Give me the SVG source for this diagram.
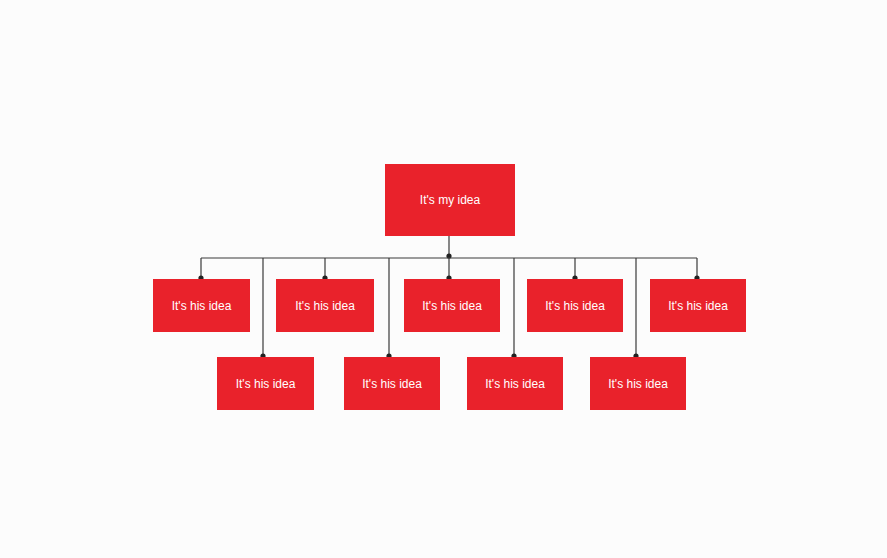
<svg xmlns="http://www.w3.org/2000/svg" width="887" height="558" viewBox="0 0 887 558">
<style>
.box{fill:#e9222b;}
.t{fill:#ffffff;font-family:"Liberation Sans",Arial,sans-serif;font-size:12px;text-anchor:middle;dominant-baseline:central;}
.c{stroke:#3a3a3a;stroke-width:1.2;fill:none;}
</style>
<defs>
<marker id="dot" viewBox="0 0 6 6" refX="3" refY="3" markerWidth="6" markerHeight="6" markerUnits="userSpaceOnUse">
<circle cx="3" cy="3" r="2.6" fill="#222"/>
</marker>
</defs>
<rect width="887" height="558" fill="#fcfcfc"/>
<g id="connectors">
<path class="c" d="M449 236 V256" marker-end="url(#dot)"/>
<path class="c" d="M201 258 H697"/>
<path class="c" d="M201 258 V278" marker-end="url(#dot)"/>
<path class="c" d="M325 258 V278" marker-end="url(#dot)"/>
<path class="c" d="M449 258 V278" marker-end="url(#dot)"/>
<path class="c" d="M575 258 V278" marker-end="url(#dot)"/>
<path class="c" d="M697 258 V278" marker-end="url(#dot)"/>
<path class="c" d="M263 258 V356" marker-end="url(#dot)"/>
<path class="c" d="M389 258 V356" marker-end="url(#dot)"/>
<path class="c" d="M514 258 V356" marker-end="url(#dot)"/>
<path class="c" d="M636 258 V356" marker-end="url(#dot)"/>
</g>
<g id="root"><rect class="box" x="385" y="164" width="130" height="72"/><text class="t" x="450" y="200">It's my idea</text></g>
<g id="n1"><rect class="box" x="153" y="279" width="97" height="53"/><text class="t" x="201.5" y="305.5">It's his idea</text></g>
<g id="n2"><rect class="box" x="276" y="279" width="98" height="53"/><text class="t" x="325" y="305.5">It's his idea</text></g>
<g id="n3"><rect class="box" x="404" y="279" width="96" height="53"/><text class="t" x="452" y="305.5">It's his idea</text></g>
<g id="n4"><rect class="box" x="527" y="279" width="96" height="53"/><text class="t" x="575" y="305.5">It's his idea</text></g>
<g id="n5"><rect class="box" x="650" y="279" width="96" height="53"/><text class="t" x="698" y="305.5">It's his idea</text></g>
<g id="n6"><rect class="box" x="217" y="357" width="97" height="53"/><text class="t" x="265.5" y="383.5">It's his idea</text></g>
<g id="n7"><rect class="box" x="344" y="357" width="96" height="53"/><text class="t" x="392" y="383.5">It's his idea</text></g>
<g id="n8"><rect class="box" x="467" y="357" width="96" height="53"/><text class="t" x="515" y="383.5">It's his idea</text></g>
<g id="n9"><rect class="box" x="590" y="357" width="96" height="53"/><text class="t" x="638" y="383.5">It's his idea</text></g>
</svg>
